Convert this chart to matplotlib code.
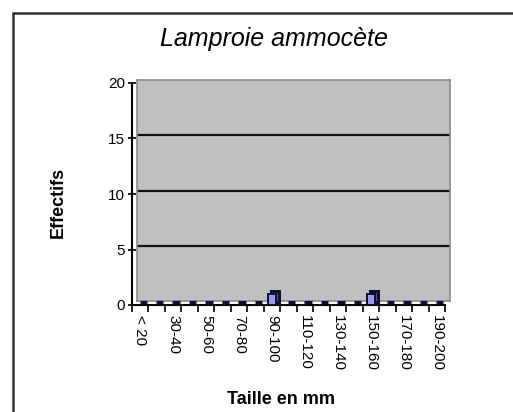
import numpy as np
import matplotlib.pyplot as plt
import matplotlib.transforms as mtransforms
from matplotlib.patches import Rectangle

plt.rcParams['font.family'] = ['Liberation Sans', 'DejaVu Sans']

classes = ["< 20", "20-30", "30-40", "40-50", "50-60", "60-70", "70-80",
           "80-90", "90-100", "100-110", "110-120", "120-130", "130-140",
           "140-150", "150-160", "160-170", "170-180", "180-190", "190-200"]
effectifs = [0, 0, 0, 0, 0, 0, 0, 0, 1, 0, 0, 0, 0, 0, 1, 0, 0, 0, 0]
y_ticks = [0, 5, 10, 15, 20]

W, H = 513, 412
fig = plt.figure(figsize=(W / 100, H / 100), dpi=100)

def box(x0, y0, x1, y1):
    # pixel box (top-left origin) -> figure fraction
    return [x0 / W, 1 - y1 / H, (x1 - x0) / W, (y1 - y0) / H]

# outer chart border (runs off right and bottom)
fig.patches.append(Rectangle((13 / W, -0.1), 1.2, 1 - 13 / H + 0.1,
                             transform=fig.transFigure, fill=False,
                             edgecolor="#333333", linewidth=1.8))

x = np.arange(len(classes))

# back wall with gridlines
wall = fig.add_axes(box(137, 80, 450, 301))
wall.set_facecolor("#C0C0C0")
wall.set_xlim(-0.5, len(classes) - 0.5)
wall.set_ylim(0, 20)
for v in y_ticks[1:-1]:
    wall.axhline(v, color="#111111", linewidth=1.6)
wall.set_xticks([])
wall.set_yticks([])
for s in wall.spines.values():
    s.set_color("#8a8a8a")
    s.set_linewidth(1.2)

# front axes carrying bars, ticks and labels
ax = fig.add_axes(box(132, 83, 445, 305))
ax.patch.set_alpha(0)
ax.set_xlim(-0.5, len(classes) - 0.5)
ax.set_ylim(0, 20)

# darker copy shifted up/right gives the bars their depth
depth = mtransforms.ScaledTranslation(3 / 100, 3 / 100, fig.dpi_scale_trans)
ax.bar(x, effectifs, width=0.45, color="#5050A8", edgecolor="#101030",
       linewidth=2.2, transform=ax.transData + depth, zorder=2)
ax.bar(x, effectifs, width=0.45, color="#9A9AF0", edgecolor="#101030",
       linewidth=1.4, zorder=3)

for side in ("top", "right"):
    ax.spines[side].set_visible(False)
for side in ("left", "bottom"):
    ax.spines[side].set_linewidth(1.5)
    ax.spines[side].set_color("black")

ax.set_yticks(y_ticks)
ax.set_yticklabels([str(v) for v in y_ticks], fontsize=11)
ax.tick_params(axis="y", direction="inout", length=6, width=1.2, pad=2)

ax.set_xticks(x[::2])
ax.set_xticklabels(classes[::2], rotation=-90, fontsize=11, va="top")
ax.set_xticks(np.arange(len(classes) + 1) - 0.5, minor=True)
ax.tick_params(axis="x", which="major", length=0, pad=7)
ax.tick_params(axis="x", which="minor", direction="out", length=5, width=1.2)

fig.text(274 / W, 1 - 39 / H, "Lamproie ammocète", ha="center", va="center",
         fontsize=18, style="italic")
fig.text(58 / W, 1 - 202 / H, "Effectifs", ha="center", va="center",
         rotation=90, fontsize=13, fontweight="bold")
fig.text(281 / W, 1 - 400 / H, "Taille en mm", ha="center", va="center",
         fontsize=13, fontweight="bold")

fig.savefig("out.png", dpi=100)
